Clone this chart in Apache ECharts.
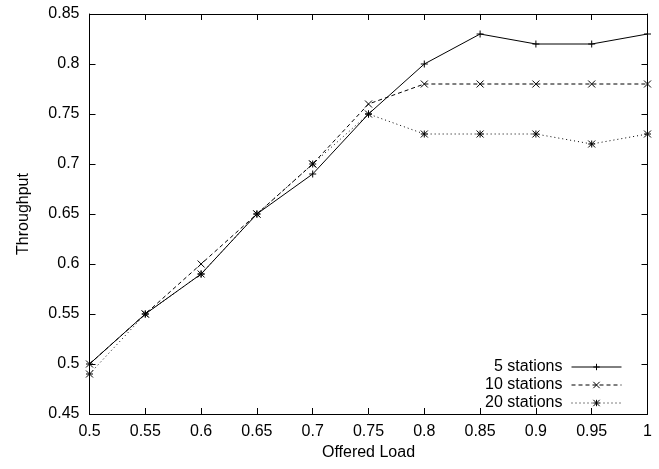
<!DOCTYPE html>
<html><head><meta charset="utf-8">
<script src="https://cdn.jsdelivr.net/npm/echarts@6/dist/echarts.min.js"></script>
<style>html,body{margin:0;padding:0;background:#fff}#c{width:659px;height:469px}</style>
</head><body><div id="c"></div>
<script>
const offeredLoad = [0.5,0.55,0.6,0.65,0.7,0.75,0.8,0.85,0.9,0.95,1];
const st5  = [0.50,0.55,0.59,0.65,0.69,0.75,0.80,0.83,0.82,0.82,0.83];
const st10 = [0.50,0.55,0.60,0.65,0.70,0.76,0.78,0.78,0.78,0.78,0.78];
const st20 = [0.49,0.55,0.59,0.65,0.70,0.75,0.73,0.73,0.73,0.72,0.73];
const seriesNames = ['5 stations','10 stations','20 stations'];

const FONT = 'Liberation Sans';
const plusPath = 'path://M0,5L10,5M5,0L5,10';
const crossPath = 'path://M0,0L10,10M10,0L0,10';
const starPath = 'path://M0,0L10,10M10,0L0,10M0,5L10,5M5,0L5,10';

function pairs(ys){ return offeredLoad.map((x,i)=>[x,ys[i]]); }
function mk(name, ys, sym, type){
  return {
    name, type:'line', data: pairs(ys), symbol: sym, symbolSize: 7,
    showAllSymbol: true,
    lineStyle:{color:'#000', width:1, type},
    itemStyle:{color:'transparent', borderColor:'#000', borderWidth:1},
    emphasis:{disabled:true}, animation:false
  };
}
const chart = echarts.init(document.getElementById('c'));
const tickStyle = {show:true, inside:true, length:6, lineStyle:{color:'#000'}};
chart.setOption({
  backgroundColor:'#fff',
  animation:false,
  grid:{left:89.5, right:11.5, top:14, bottom:55, containLabel:false},
  legend:{
    data: seriesNames, orient:'vertical', align:'right', right:32, bottom:53,
    itemWidth:50, itemHeight:8, itemGap:2,
    lineStyle:{width:1},
    itemStyle:{color:'transparent', borderColor:'#000', borderWidth:1},
    textStyle:{fontFamily:FONT, fontSize:16, color:'#000', padding:[0,4,0,0]}
  },
  xAxis:[{
    type:'value', min:0.5, max:1, interval:0.05,
    name:'Offered Load', nameLocation:'middle', nameGap:31,
    nameTextStyle:{fontFamily:FONT, fontSize:16, color:'#000'},
    axisLine:{show:true, onZero:false, lineStyle:{color:'#000'}},
    axisTick: tickStyle, splitLine:{show:false},
    axisLabel:{fontFamily:FONT, fontSize:16, color:'#000', margin:10,
      formatter: v => String(+v.toFixed(2))}
  },{
    type:'value', position:'top', min:0.5, max:1, interval:0.05,
    axisLine:{show:true, onZero:false, lineStyle:{color:'#000'}},
    axisTick: tickStyle, axisLabel:{show:false}, splitLine:{show:false}
  }],
  yAxis:[{
    type:'value', min:0.45, max:0.85, interval:0.05,
    name:'Throughput', nameLocation:'middle', nameGap:58,
    nameTextStyle:{fontFamily:FONT, fontSize:16, color:'#000'},
    axisLine:{show:true, onZero:false, lineStyle:{color:'#000'}},
    axisTick: tickStyle, splitLine:{show:false},
    axisLabel:{fontFamily:FONT, fontSize:16, color:'#000', margin:10,
      formatter: v => String(+v.toFixed(2))}
  },{
    type:'value', position:'right', min:0.45, max:0.85, interval:0.05,
    axisLine:{show:true, onZero:false, lineStyle:{color:'#000'}},
    axisTick: tickStyle, axisLabel:{show:false}, splitLine:{show:false}
  }],
  series:[
    mk(seriesNames[0], st5, plusPath, 'solid'),
    mk(seriesNames[1], st10, crossPath, [4,3]),
    mk(seriesNames[2], st20, starPath, [1,3])
  ]
});
</script></body></html>
